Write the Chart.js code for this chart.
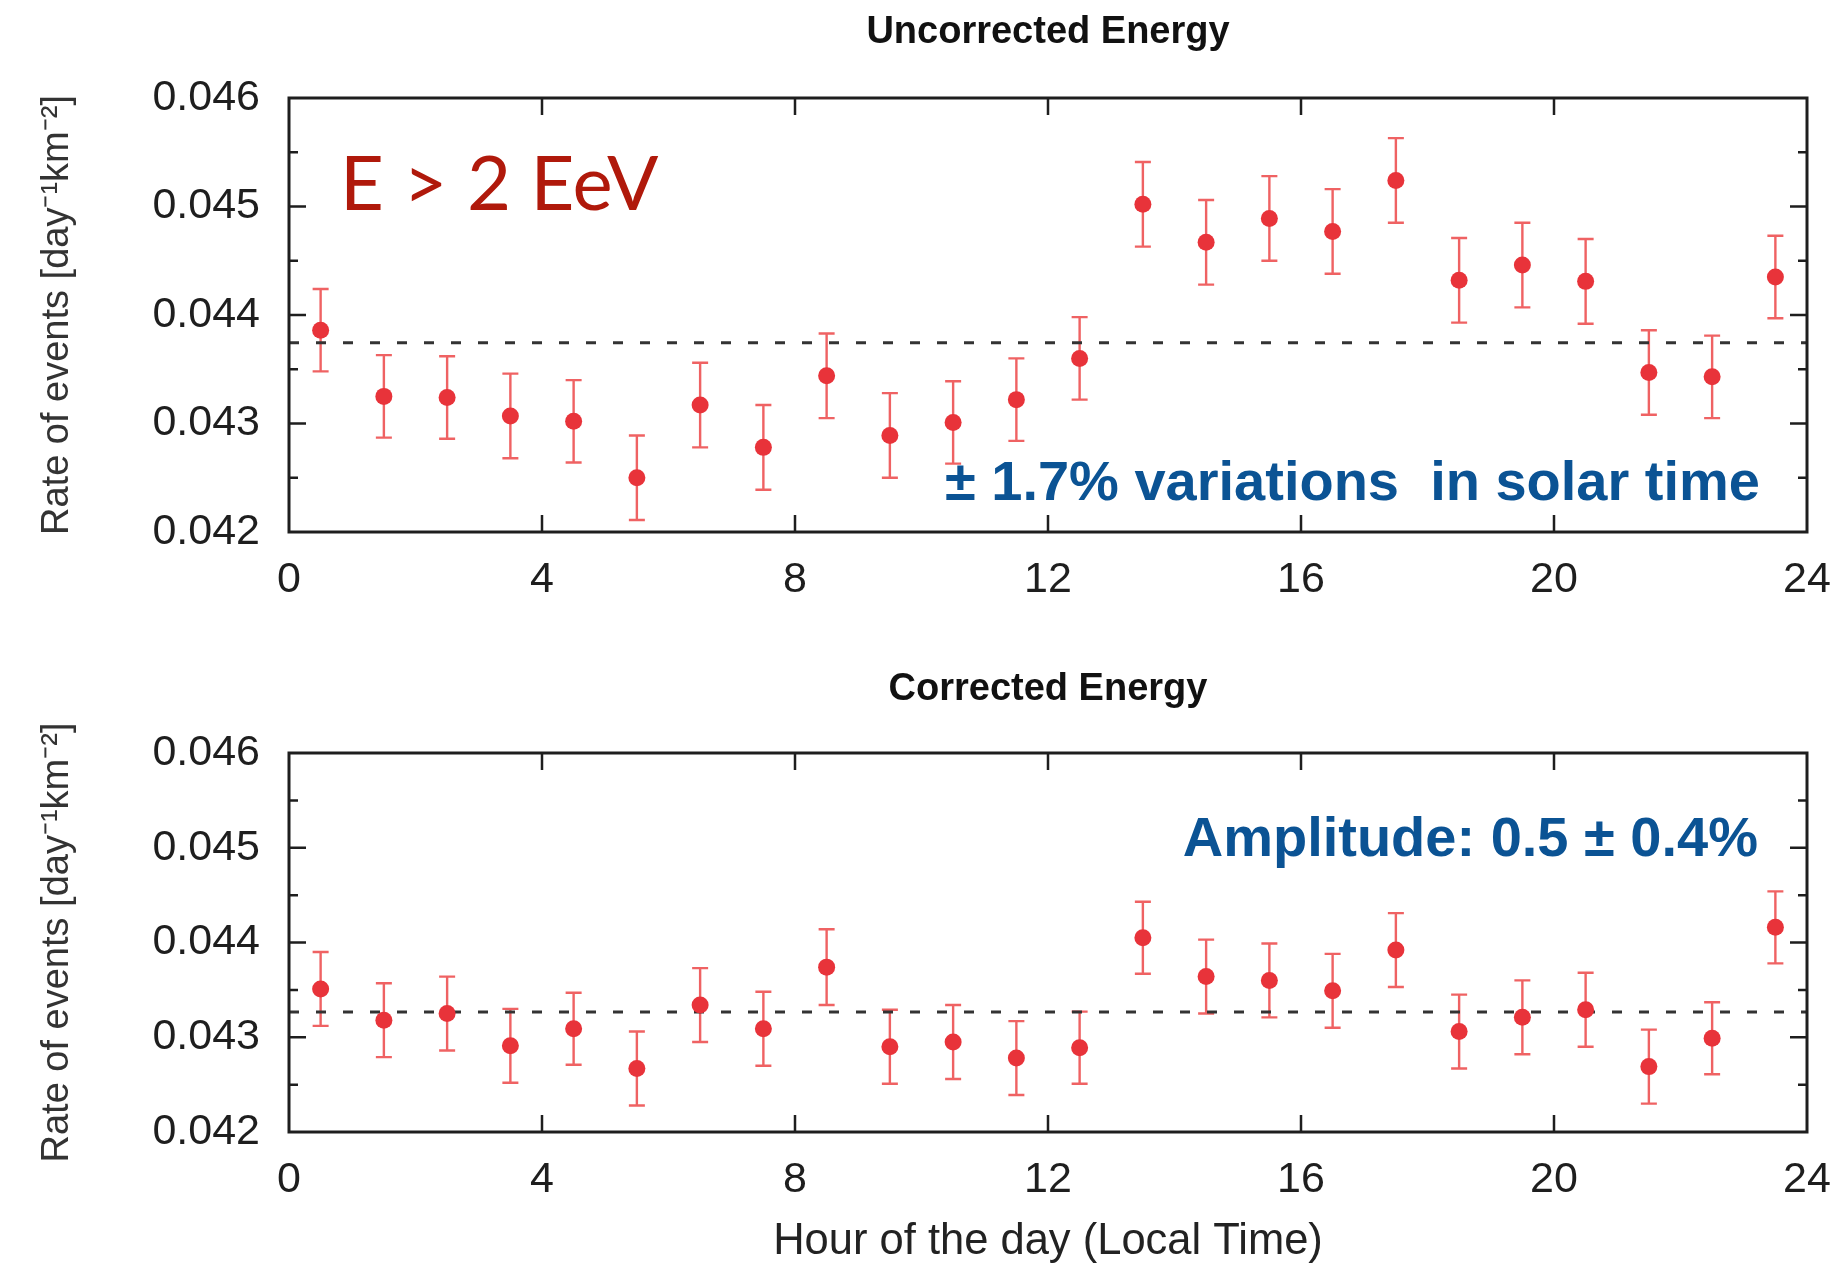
<!DOCTYPE html>
<html><head><meta charset="utf-8">
<script src="https://cdn.jsdelivr.net/npm/chart.js@4.4.0/dist/chart.umd.min.js"></script>
<style>
html,body{margin:0;padding:0;background:#fff;width:1839px;height:1270px;overflow:hidden}
.box{position:absolute;left:0;width:1839px}
#b1{top:0;height:625px}
#b2{top:620px;height:650px}
canvas{display:block}
</style></head><body>
<div class="box" id="b1"><canvas id="c1" width="1839" height="625" style="width:1839px;height:625px"></canvas></div>
<div class="box" id="b2"><canvas id="c2" width="1839" height="650" style="width:1839px;height:650px"></canvas></div>
<script>
// ---------------- data ----------------
const hours = [0.5, 1.5, 2.5, 3.5, 4.5, 5.5, 6.5, 7.5, 8.5, 9.5, 10.5, 11.5,
               12.5, 13.5, 14.5, 15.5, 16.5, 17.5, 18.5, 19.5, 20.5, 21.5, 22.5, 23.5];
const uncorrRate = [0.04386, 0.04325, 0.04324, 0.04307, 0.04302, 0.04250, 0.04317, 0.04278,
                    0.04344, 0.04289, 0.04301, 0.04322, 0.04360, 0.04502, 0.04467, 0.04489,
                    0.04477, 0.04524, 0.04432, 0.04446, 0.04431, 0.04347, 0.04343, 0.04435];
const uncorrErr = [0.00038, 0.00038, 0.00038, 0.00039, 0.00038, 0.00039, 0.00039, 0.00039,
                   0.00039, 0.00039, 0.00038, 0.00038, 0.00038, 0.00039, 0.00039, 0.00039,
                   0.00039, 0.00039, 0.00039, 0.00039, 0.00039, 0.00039, 0.00038, 0.00038];
const uncorrMean = [0.043745];
const corrRate = [0.04351, 0.04318, 0.04325, 0.04291, 0.04309, 0.04267, 0.04334, 0.04309,
                  0.04374, 0.04290, 0.04295, 0.04278, 0.04289, 0.04405, 0.04364, 0.04360,
                  0.04349, 0.04392, 0.04306, 0.04321, 0.04329, 0.04269, 0.04299, 0.04416];
const corrErr = [0.00039, 0.00039, 0.00039, 0.00039, 0.00038, 0.00039, 0.00039, 0.00039,
                 0.00040, 0.00039, 0.00039, 0.00039, 0.00038, 0.00038, 0.00039, 0.00039,
                 0.00039, 0.00039, 0.00039, 0.00039, 0.00039, 0.00039, 0.00038, 0.00038];
const corrMean = [0.043266];
const xRange = [0, 24];
const yRange = [0.042, 0.046];
const yTickLabels = ['0.042', '0.043', '0.044', '0.045', '0.046'];
const titles = ['Uncorrected Energy', 'Corrected Energy'];
const yTitle = 'Rate of events [day\u207B\u00B9km\u207B\u00B2]';
const xTitle = 'Hour of the day (Local Time)';
const notesTop = ['E > 2 EeV', '\u00B1 1.7% variations  in solar time'];
const notesBottom = ['Amplitude: 0.5 \u00B1 0.4%'];

// ---------------- style ----------------
const FONT = "'Liberation Sans', Arial, Helvetica, sans-serif";
Chart.defaults.font.family = FONT;
const POINT = '#e8333a';
const ERRC = 'rgba(236,70,72,0.85)';
const INK = '#1e1e1e';

const errorBarPlugin = {
  id: 'errorBars',
  beforeDatasetsDraw(chart) {
    const {ctx, scales: {x, y}} = chart;
    ctx.save();
    ctx.strokeStyle = ERRC;
    ctx.lineWidth = 2.4;
    chart.data.datasets.forEach(ds => {
      if (!ds.errors) return;
      ds.data.forEach((p, i) => {
        const px = x.getPixelForValue(p.x);
        const yt = y.getPixelForValue(p.y + ds.errors[i]);
        const yb = y.getPixelForValue(p.y - ds.errors[i]);
        const c = 8;
        ctx.beginPath();
        ctx.moveTo(px, yt); ctx.lineTo(px, yb);
        ctx.moveTo(px - c, yt); ctx.lineTo(px + c, yt);
        ctx.moveTo(px - c, yb); ctx.lineTo(px + c, yb);
        ctx.stroke();
      });
    });
    ctx.restore();
  }
};

const framePlugin = {
  id: 'frame',
  afterDatasetsDraw(chart) {
    const {ctx, chartArea: a, scales: {x, y}} = chart;
    ctx.save();
    ctx.strokeStyle = INK;
    ctx.lineWidth = 2.5;
    ctx.beginPath();
    y.ticks.forEach(t => {
      const py = y.getPixelForValue(t.value);
      if (py <= a.top + 2 || py >= a.bottom - 2) return;
      const major = Math.round(t.value * 2000) % 2 === 0;
      const L = major ? 17 : 9;
      ctx.moveTo(a.left, py); ctx.lineTo(a.left + L, py);
      ctx.moveTo(a.right, py); ctx.lineTo(a.right - L, py);
    });
    x.ticks.forEach(t => {
      const px = x.getPixelForValue(t.value);
      if (px <= a.left + 2 || px >= a.right - 2) return;
      ctx.moveTo(px, a.bottom); ctx.lineTo(px, a.bottom - 17);
      ctx.moveTo(px, a.top); ctx.lineTo(px, a.top + 17);
    });
    ctx.stroke();
    ctx.lineWidth = 3;
    ctx.strokeRect(a.left, a.top, a.right - a.left, a.bottom - a.top);
    ctx.restore();
  }
};

const notesPlugin = {
  id: 'notes',
  afterDraw(chart, args, opts) {
    const {ctx, chartArea: a} = chart;
    (opts.items || []).forEach(n => {
      ctx.save();
      ctx.font = n.font;
      ctx.fillStyle = n.color;
      ctx.textAlign = n.align;
      ctx.textBaseline = 'alphabetic';
      const xx = n.align === 'right' ? a.right - n.dx : a.left + n.dx;
      ctx.fillText(n.text, xx, a.top + n.dy);
      ctx.restore();
    });
  }
};

function makeChart(id, rates, errs, mean, cfg) {
  const pts = hours.map((h, i) => ({x: h, y: rates[i]}));
  return new Chart(document.getElementById(id), {
    type: 'scatter',
    data: {
      datasets: [
        {data: pts, errors: errs, pointRadius: 8.5, pointHoverRadius: 8.5,
         backgroundColor: POINT, borderWidth: 0, order: 0},
        {type: 'line', data: [{x: xRange[0], y: mean[0]}, {x: xRange[1], y: mean[0]}],
         borderColor: '#333', borderWidth: 3, borderDash: [10, 17],
         pointRadius: 0, fill: false, order: 1}
      ]
    },
    options: {
      responsive: false, animation: false, devicePixelRatio: 1,
      layout: {padding: {left: 0, right: 32, top: 0, bottom: cfg.padBottom}},
      plugins: {
        legend: {display: false}, tooltip: {enabled: false},
        title: {display: true, text: cfg.title, fullSize: false, color: '#111',
                font: {size: 38, weight: 'bold', family: FONT, lineHeight: 1.2},
                padding: cfg.titlePad},
        notes: {items: cfg.notes}
      },
      scales: {
        x: {type: 'linear', min: xRange[0], max: xRange[1],
            afterFit: s => { s.height = cfg.xHeight; },
            grid: {display: false, drawTicks: false},
            border: {display: false},
            ticks: {stepSize: 4, padding: 0, color: INK, font: {size: 43, lineHeight: 2.23}, maxRotation: 0, autoSkip: false},
            title: cfg.xTitle},
        y: {type: 'linear', min: yRange[0], max: yRange[1],
            afterFit: s => { s.width = 289; },
            grid: {display: false, drawTicks: false},
            border: {display: false},
            ticks: {stepSize: 0.0005, padding: 29, color: INK, font: {size: 43}, autoSkip: false,
                    callback: v => { const k = Math.round(v * 10000); return k % 10 === 0 ? yTickLabels[(k - 420) / 10] : ''; }},
            title: {display: true, text: yTitle, color: '#333', font: {size: 38, lineHeight: 1.2},
                    padding: {top: 35, bottom: 0}}}
      }
    },
    plugins: [errorBarPlugin, framePlugin, notesPlugin]
  });
}

makeChart('c1', uncorrRate, uncorrErr, uncorrMean, {
  title: titles[0], padBottom: 3, xHeight: 90,
  titlePad: {top: 10, bottom: 42.4},
  xTitle: {display: false},
  notes: [
    {text: notesTop[0], font: "400 76px Lato, 'Open Sans', sans-serif", color: '#b0190b', align: 'left', dx: 51, dy: 112},
    {text: notesTop[1], font: "bold 56px " + FONT, color: '#0b5394', align: 'right', dx: 47, dy: 402}
  ]
});
makeChart('c2', corrRate, corrErr, corrMean, {
  title: titles[1], padBottom: 0, xHeight: 138,
  titlePad: {top: 47, bottom: 40.4},
  xTitle: {display: true, text: xTitle, color: '#222', font: {size: 43.5, lineHeight: 1.2}, padding: {top: 0, bottom: 2}},
  notes: [
    {text: notesBottom[0], font: "bold 56px " + FONT, color: '#0b5394', align: 'right', dx: 49, dy: 103}
  ]
});
</script>
</body></html>
